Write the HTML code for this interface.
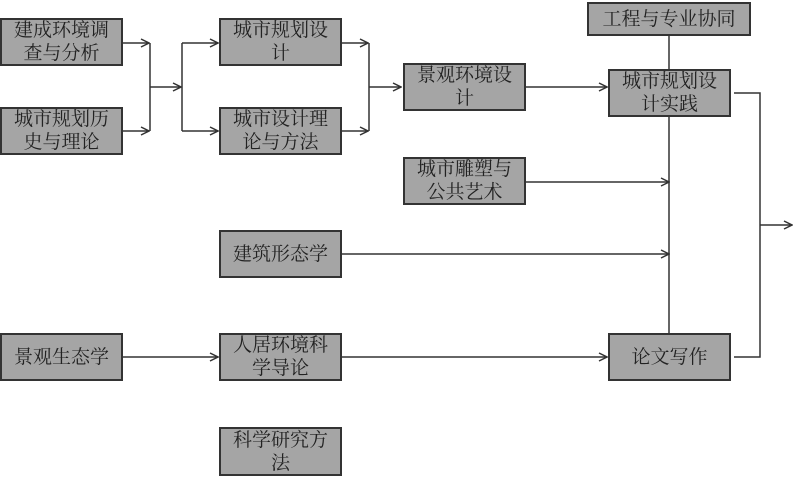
<!DOCTYPE html>
<html><head><meta charset="utf-8"><style>
body{margin:0;width:799px;height:487px;background:#fff;position:relative;overflow:hidden}
.b{position:absolute;background:#a5a5a5;border:2px solid #333;box-sizing:border-box;display:flex;align-items:center;justify-content:center;text-align:center;font-family:"Liberation Serif","Noto Serif CJK SC",serif;font-size:19px;line-height:23px;color:#222}
svg{position:absolute;left:0;top:0}
</style></head><body>
<svg width="799" height="487" fill="none" stroke="#333" stroke-width="1.5">
<defs><marker id="a" markerWidth="10" markerHeight="10" refX="9" refY="5" orient="auto" markerUnits="userSpaceOnUse"><path d="M1,1 L9,5 L1,9" stroke="#333" stroke-width="1.5" fill="none"/></marker></defs>
<path d="M150 43V131" />
<path d="M123 43H149" marker-end="url(#a)"/><path d="M123 131H149" marker-end="url(#a)"/>
<path d="M150 87H181" marker-end="url(#a)"/>
<path d="M182 43V131"/>
<path d="M182 43H218" marker-end="url(#a)"/><path d="M182 131H218" marker-end="url(#a)"/>
<path d="M342 43H368" marker-end="url(#a)"/><path d="M342 131H368" marker-end="url(#a)"/>
<path d="M369 43V131"/>
<path d="M369 87H401" marker-end="url(#a)"/>
<path d="M526 87H607" marker-end="url(#a)"/>
<path d="M669 35V69M669 117V333"/>
<path d="M526 182H669" marker-end="url(#a)"/>
<path d="M342 254H669" marker-end="url(#a)"/>
<path d="M123 357H218" marker-end="url(#a)"/>
<path d="M342 357H607" marker-end="url(#a)"/>
<path d="M734 93H760V357H734"/>
<path d="M760 225H792" marker-end="url(#a)"/>
</svg>
<div class="b" style="left:0;top:18px;width:123px;height:48px">建成环境调<br>查与分析</div>
<div class="b" style="left:0;top:107px;width:123px;height:48px">城市规划历<br>史与理论</div>
<div class="b" style="left:219px;top:18px;width:123px;height:48px">城市规划设<br>计</div>
<div class="b" style="left:219px;top:107px;width:123px;height:48px">城市设计理<br>论与方法</div>
<div class="b" style="left:403px;top:63px;width:123px;height:48px">景观环境设<br>计</div>
<div class="b" style="left:587px;top:2px;width:164px;height:34px">工程与专业协同</div>
<div class="b" style="left:608px;top:69px;width:123px;height:48px">城市规划设<br>计实践</div>
<div class="b" style="left:403px;top:157px;width:123px;height:48px">城市雕塑与<br>公共艺术</div>
<div class="b" style="left:219px;top:230px;width:123px;height:48px">建筑形态学</div>
<div class="b" style="left:0;top:333px;width:123px;height:48px">景观生态学</div>
<div class="b" style="left:219px;top:333px;width:123px;height:48px">人居环境科<br>学导论</div>
<div class="b" style="left:608px;top:333px;width:123px;height:48px">论文写作</div>
<div class="b" style="left:219px;top:427px;width:123px;height:49px">科学研究方<br>法</div>
</body></html>
